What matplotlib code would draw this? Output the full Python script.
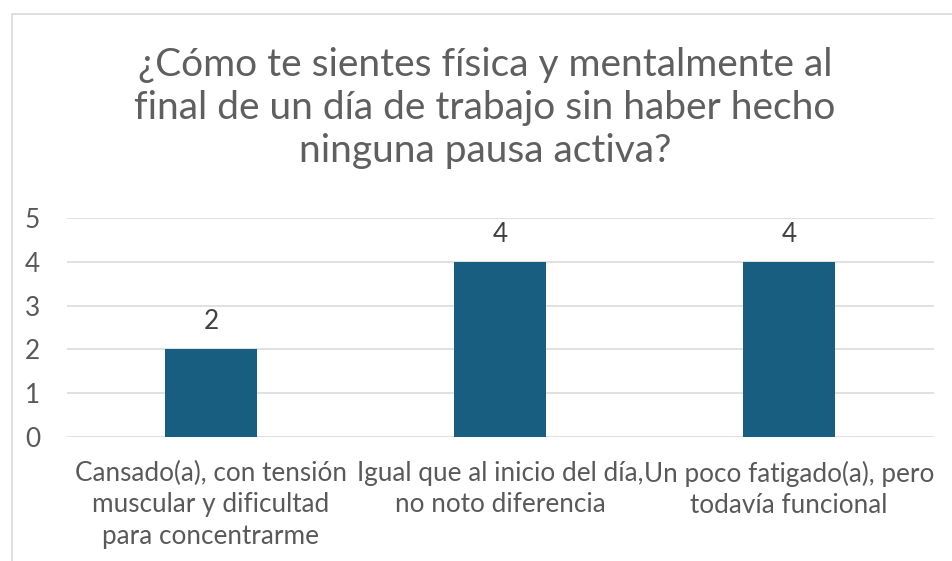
import matplotlib
matplotlib.use("Agg")
import matplotlib.pyplot as plt
from matplotlib.patches import Rectangle

categories = [
    "Cansado(a), con tensión\nmuscular y dificultad\npara concentrarme",
    "Igual que al inicio del día,\nno noto diferencia",
    "Un poco fatigado(a), pero\ntodavía funcional",
]
values = [2, 4, 4]
yticks = [0, 1, 2, 3, 4, 5]
title = "¿Cómo te sientes física y mentalmente al\nfinal de un día de trabajo sin haber hecho\nninguna pausa activa?"

W, H = 952, 561
FONT = ["Lato", "DejaVu Sans"]
GRAY = "#595959"
BAR = "#185E80"
GRID = "#D9D9D9"

plt.rcParams['font.family'] = FONT
fig = plt.figure(figsize=(W / 100, H / 100), dpi=100)
fig.patch.set_facecolor("white")

# chart border (extends beyond right/bottom edges)
fig.patches.append(Rectangle((12 / W, -0.1), 1.2, 1 - 14 / H + 0.1,
                             transform=fig.transFigure, fill=False,
                             edgecolor=GRID, linewidth=1.2))

ax = fig.add_axes([66.5 / W, 1 - 437 / H, 867 / W, 219 / H])
x = list(range(len(categories)))
ax.bar(x, values, width=0.32, color=BAR, zorder=3)
ax.set_xlim(-0.5, len(categories) - 0.5)
ax.set_ylim(0, 5)
ax.set_yticks(yticks)
ax.set_yticklabels([str(t) for t in yticks])
ax.set_xticks(x)
ax.set_xticklabels(categories, linespacing=1.33)
for s in ax.spines.values():
    s.set_visible(False)
ax.grid(axis="y", color=GRID, linewidth=1.1, zorder=0)
ax.tick_params(axis="both", length=0, colors=GRAY, labelsize=14.5)
ax.tick_params(axis="y", pad=19)
ax.tick_params(axis="x", pad=17)

t = fig.text(485 / W, 1 - 108 / H, title, ha="center", va="center",
             fontsize=22, color="#5f5f5f", linespacing=1.25)

# fit font sizes to reference widths
fig.canvas.draw()
r = fig.canvas.get_renderer()
bb = t.get_window_extent(r)
t.set_fontsize(22 * 698 / bb.width)
lab = ax.get_xticklabels()[0]
lb = lab.get_window_extent(r)
fs = 14.5 * 270 / lb.width
ax.tick_params(axis="both", labelsize=fs)

for xi, v in zip(x, values):
    ax.annotate(str(v), (xi, v), xytext=(0, 11), textcoords="offset points",
                ha="center", va="bottom", fontsize=fs, color="#404040")

fig.savefig("out.png", dpi=100, facecolor="white")
